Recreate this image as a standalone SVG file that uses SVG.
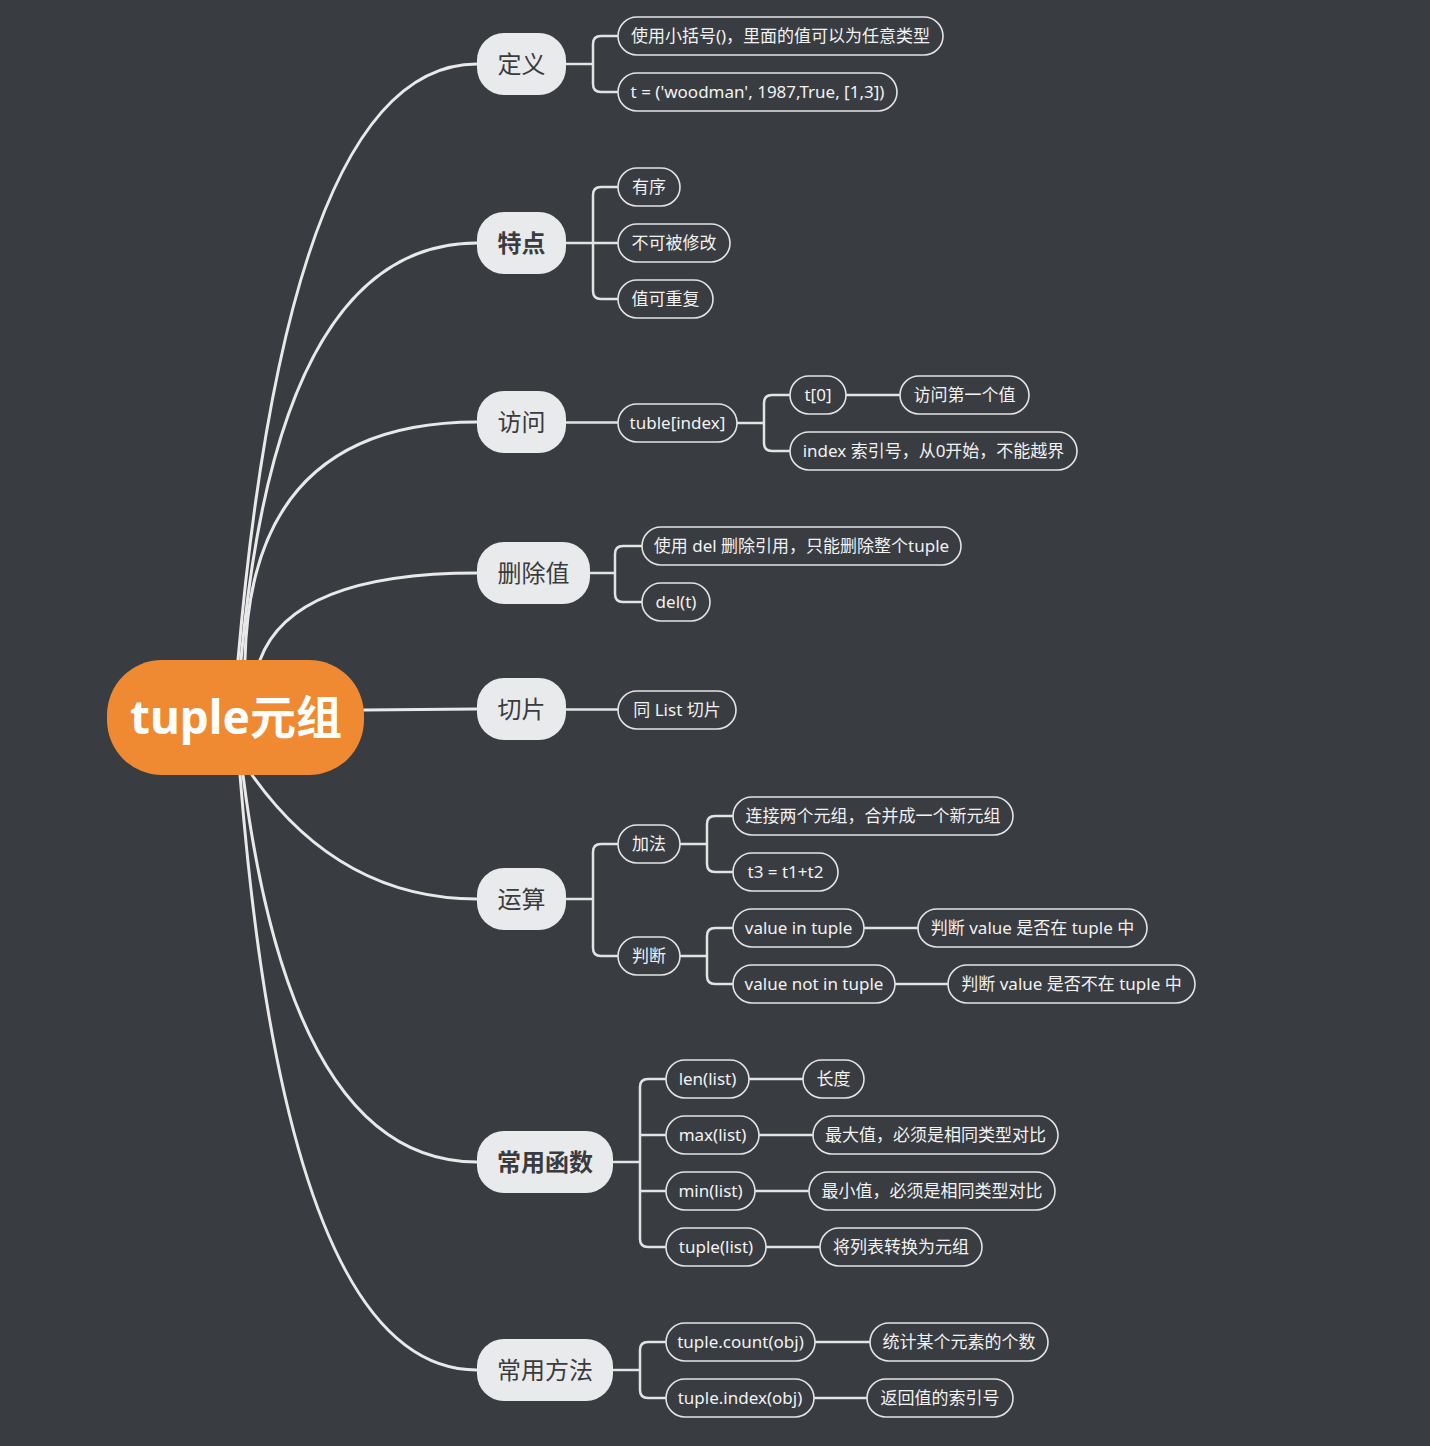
<svg xmlns="http://www.w3.org/2000/svg" width="1430" height="1446" viewBox="0 0 1430 1446">
<style>
.bg{fill:#393c41}
.main{fill:none;stroke:#e9e9ea;stroke-width:3;stroke-linecap:round}
.sub{fill:none;stroke:#e3e3e4;stroke-width:2.5;stroke-linecap:butt}
.l1 rect{fill:#e9eaec}
.l1 text{font-family:"Noto Sans","Noto Sans CJK SC",sans-serif;font-size:24px;fill:#3a3b3e;text-anchor:middle}
.l1.b text{font-weight:700}
.l2 rect{fill:#393c41;stroke:#e3e3e4;stroke-width:1.6}
.l2 text{font-family:"Noto Sans","Noto Sans CJK SC",sans-serif;font-size:17px;fill:#f2f2f2;text-anchor:middle}
.root rect{fill:#ef8932}
.root text{font-family:"Noto Sans","Noto Sans CJK SC",sans-serif;font-size:46px;font-weight:700;fill:#ffffff;text-anchor:middle}
</style>
<rect class="bg" x="0" y="0" width="1430" height="1446"/>
<g id="connectors">
<path class="main" d="M238 660 Q290 64 477 64"/>
<path class="main" d="M241 660 Q278 243 477 243"/>
<path class="main" d="M245 660 Q250 422 477 422"/>
<path class="main" d="M260 660 Q292 573 477 573"/>
<path class="main" d="M364 710 L477 709"/>
<path class="main" d="M252 775 Q340 899 477 899"/>
<path class="main" d="M243 775 Q292 1162 477 1162"/>
<path class="main" d="M240 775 Q287 1370 477 1370"/>
<path class="sub" d="M566 64 H593 M618 36 H601 Q593 36 593 44 V84 Q593 92 601 92 H618"/>
<path class="sub" d="M566 243 H618 M618 187 H601 Q593 187 593 195 V291 Q593 299 601 299 H618"/>
<path class="sub" d="M566 422.5 H618"/>
<path class="sub" d="M737 423 H764 M790 395 H772 Q764 395 764 403 V443 Q764 451 772 451 H790"/>
<path class="sub" d="M846 395 H900"/>
<path class="sub" d="M590 573 H615 M642 546 H623 Q615 546 615 554 V594 Q615 602 623 602 H642"/>
<path class="sub" d="M566 709.5 H618"/>
<path class="sub" d="M566 899 H593 M618 844 H601 Q593 844 593 852 V948 Q593 956 601 956 H618"/>
<path class="sub" d="M680 844 H707 M733 816 H715 Q707 816 707 824 V864 Q707 872 715 872 H733"/>
<path class="sub" d="M680 956 H707 M733 928 H715 Q707 928 707 936 V976 Q707 984 715 984 H733"/>
<path class="sub" d="M864 928 H918"/>
<path class="sub" d="M895 984 H948"/>
<path class="sub" d="M613 1162 H640 M666 1079 H648 Q640 1079 640 1087 V1239 Q640 1247 648 1247 H666 M640 1135 H666 M640 1191 H666"/>
<path class="sub" d="M749 1079 H803"/>
<path class="sub" d="M759 1135 H813"/>
<path class="sub" d="M755 1191 H809"/>
<path class="sub" d="M766 1247 H820"/>
<path class="sub" d="M613 1370 H640 M666 1342 H648 Q640 1342 640 1350 V1390 Q640 1398 648 1398 H666"/>
<path class="sub" d="M815 1342 H870"/>
<path class="sub" d="M814 1398 H867"/>
</g>
<g id="root" class="root"><rect x="107" y="660" width="257" height="115" rx="55"/><text x="236" y="734">tuple元组</text></g>

<g id="n-def" class="l1"><rect x="477" y="33" width="89" height="62" rx="27"/><text x="521.5" y="72.5">定义</text></g>
<g id="n-def-1" class="l2"><rect x="618" y="17" width="325" height="38" rx="19"/><text x="780.5" y="42">使用小括号()，里面的值可以为任意类型</text></g>
<g id="n-def-2" class="l2"><rect x="618" y="73" width="279" height="38" rx="19"/><text x="757.5" y="98">t = ('woodman', 1987,True, [1,3])</text></g>

<g id="n-feat" class="l1 b"><rect x="477" y="212" width="89" height="62" rx="27"/><text x="521.5" y="251.5">特点</text></g>
<g id="n-feat-1" class="l2"><rect x="618" y="168" width="62" height="38" rx="19"/><text x="649" y="193">有序</text></g>
<g id="n-feat-2" class="l2"><rect x="618" y="224" width="112" height="38" rx="19"/><text x="674" y="249">不可被修改</text></g>
<g id="n-feat-3" class="l2"><rect x="618" y="280" width="95" height="38" rx="19"/><text x="665.5" y="305">值可重复</text></g>

<g id="n-acc" class="l1"><rect x="477" y="391" width="89" height="62" rx="27"/><text x="521.5" y="430.5">访问</text></g>
<g id="n-acc-1" class="l2"><rect x="618" y="404" width="119" height="38" rx="19"/><text x="677.5" y="429">tuble[index]</text></g>
<g id="n-acc-2" class="l2"><rect x="790" y="376" width="56" height="38" rx="19"/><text x="818" y="401">t[0]</text></g>
<g id="n-acc-3" class="l2"><rect x="900" y="376" width="129" height="38" rx="19"/><text x="964.5" y="401">访问第一个值</text></g>
<g id="n-acc-4" class="l2"><rect x="790" y="432" width="287" height="38" rx="19"/><text x="933.5" y="457">index 索引号，从0开始，不能越界</text></g>

<g id="n-del" class="l1"><rect x="477" y="542" width="113" height="62" rx="27"/><text x="533.5" y="581.5">删除值</text></g>
<g id="n-del-1" class="l2"><rect x="642" y="527" width="319" height="38" rx="19"/><text x="801.5" y="552">使用 del 删除引用，只能删除整个tuple</text></g>
<g id="n-del-2" class="l2"><rect x="642" y="583" width="68" height="38" rx="19"/><text x="676" y="608">del(t)</text></g>

<g id="n-slice" class="l1"><rect x="477" y="678" width="89" height="62" rx="27"/><text x="521.5" y="717.5">切片</text></g>
<g id="n-slice-1" class="l2"><rect x="618" y="691" width="118" height="38" rx="19"/><text x="677" y="716">同 List 切片</text></g>

<g id="n-op" class="l1"><rect x="477" y="868" width="89" height="62" rx="27"/><text x="521.5" y="907.5">运算</text></g>
<g id="n-op-add" class="l2"><rect x="618" y="825" width="62" height="38" rx="19"/><text x="649" y="850">加法</text></g>
<g id="n-op-add-1" class="l2"><rect x="733" y="797" width="280" height="38" rx="19"/><text x="873" y="822">连接两个元组，合并成一个新元组</text></g>
<g id="n-op-add-2" class="l2"><rect x="733" y="853" width="105" height="38" rx="19"/><text x="785.5" y="878">t3 = t1+t2</text></g>
<g id="n-op-judge" class="l2"><rect x="618" y="937" width="62" height="38" rx="19"/><text x="649" y="962">判断</text></g>
<g id="n-op-in" class="l2"><rect x="733" y="909" width="131" height="38" rx="19"/><text x="798.5" y="934">value in tuple</text></g>
<g id="n-op-in-d" class="l2"><rect x="918" y="909" width="229" height="38" rx="19"/><text x="1032.5" y="934">判断 value 是否在 tuple 中</text></g>
<g id="n-op-notin" class="l2"><rect x="733" y="965" width="162" height="38" rx="19"/><text x="814" y="990">value not in tuple</text></g>
<g id="n-op-notin-d" class="l2"><rect x="948" y="965" width="247" height="38" rx="19"/><text x="1071.5" y="990">判断 value 是否不在 tuple 中</text></g>

<g id="n-func" class="l1 b"><rect x="477" y="1131" width="136" height="62" rx="27"/><text x="545" y="1170.5">常用函数</text></g>
<g id="n-func-len" class="l2"><rect x="666" y="1060" width="83" height="38" rx="19"/><text x="707.5" y="1085">len(list)</text></g>
<g id="n-func-len-d" class="l2"><rect x="803" y="1060" width="61" height="38" rx="19"/><text x="833.5" y="1085">长度</text></g>
<g id="n-func-max" class="l2"><rect x="666" y="1116" width="93" height="38" rx="19"/><text x="712.5" y="1141">max(list)</text></g>
<g id="n-func-max-d" class="l2"><rect x="813" y="1116" width="245" height="38" rx="19"/><text x="935.5" y="1141">最大值，必须是相同类型对比</text></g>
<g id="n-func-min" class="l2"><rect x="666" y="1172" width="89" height="38" rx="19"/><text x="710.5" y="1197">min(list)</text></g>
<g id="n-func-min-d" class="l2"><rect x="809" y="1172" width="246" height="38" rx="19"/><text x="932" y="1197">最小值，必须是相同类型对比</text></g>
<g id="n-func-tuple" class="l2"><rect x="666" y="1228" width="100" height="38" rx="19"/><text x="716" y="1253">tuple(list)</text></g>
<g id="n-func-tuple-d" class="l2"><rect x="820" y="1228" width="162" height="38" rx="19"/><text x="901" y="1253">将列表转换为元组</text></g>

<g id="n-meth" class="l1"><rect x="477" y="1339" width="136" height="62" rx="27"/><text x="545" y="1378.5">常用方法</text></g>
<g id="n-meth-count" class="l2"><rect x="666" y="1323" width="149" height="38" rx="19"/><text x="740.5" y="1348">tuple.count(obj)</text></g>
<g id="n-meth-count-d" class="l2"><rect x="870" y="1323" width="178" height="38" rx="19"/><text x="959" y="1348">统计某个元素的个数</text></g>
<g id="n-meth-index" class="l2"><rect x="666" y="1379" width="148" height="38" rx="19"/><text x="740" y="1404">tuple.index(obj)</text></g>
<g id="n-meth-index-d" class="l2"><rect x="867" y="1379" width="146" height="38" rx="19"/><text x="940" y="1404">返回值的索引号</text></g>
</svg>
